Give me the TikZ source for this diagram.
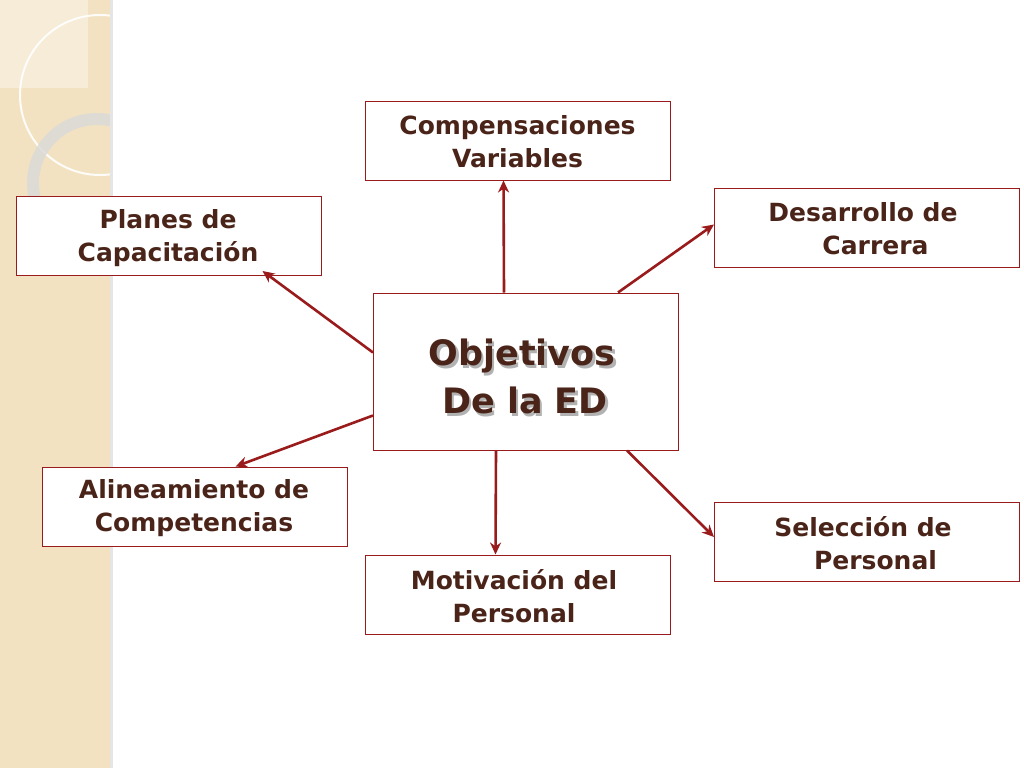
\documentclass[tikz,border=0pt]{standalone}
\usepackage{fontspec}
\setmainfont{DejaVu Sans}
\usetikzlibrary{calc,arrows.meta}
\begin{document}
\begin{tikzpicture}[x=1pt,y=-1pt,
  box/.style={draw=boxred,line width=1pt,fill=white,minimum width=305pt,minimum height=79pt,inner sep=0pt},
  lbl/.style={font=\bfseries\fontsize{25}{33}\selectfont,text=txt,align=center},
  arr/.style={draw=boxred,line width=2.6pt,-{Stealth[length=12pt,width=11pt]}}]
\definecolor{boxred}{HTML}{9A1B1B}
\definecolor{txt}{HTML}{4A2418}
\definecolor{beige}{HTML}{F2E2C2}
\useasboundingbox (0,0) rectangle (1024,768);
\fill[white] (0,0) rectangle (1024,768);
\fill[beige] (0,0) rectangle (112,768);
\begin{scope}
\clip (0,0) rectangle (112,768);
\fill[white,opacity=0.35] (0,0) rectangle (88,88);
\draw[white,line width=2pt,opacity=0.9] (100,95) circle (80);
\draw[gray!30,line width=12pt,opacity=0.8] (97,183) circle (64);
\end{scope}
\fill[gray!20] (110,0) rectangle (113,768);
% nodes
\node[box] (c) at (526,371.5) [minimum height=157pt] {};
\node[font=\bfseries\fontsize{35}{48}\selectfont,align=center,text=gray!60] (cs) at (524.5,379) {Objetivos\\ \,De la ED};
\node[font=\bfseries\fontsize{35}{48}\selectfont,text=txt,align=center] (ct) at (522,376) {Objetivos\\ \,De la ED};
\node[box] (comp) at (517.5,140.5) {};
\node[lbl] (compt) at (517.5,142) {Compensaciones\\ Variables};
\node[box] (plan) at (168.5,236) {};
\node[lbl] (plant) at (168,238) {Planes de\\ Capacitación};
\node[box] (des) at (867,227.5) {};
\node[lbl] (dest) at (863,229) {Desarrollo de\\ \quad Carrera};
\node[box] (ali) at (194.5,506.5) {};
\node[lbl] (alit) at (194,508) {Alineamiento de\\ Competencias};
\node[box] (sel) at (867,542) {};
\node[lbl] (selt) at (863,543) {Selección de\\ \quad Personal};
\node[box] (mot) at (517.5,594.5) {};
\node[lbl] (mott) at (514,596) {Motivación del\\ Personal};
% connectors
\draw[arr] ($(c.north west)+(131,0)$) -- ($(comp.south west)+(139,0)$);
\draw[arr] ($(c.north west)+(0,60)$) -- ($(plan.south east)+(-59,-5)$);
\draw[arr] ($(c.north west)+(245,0)$) -- ($(des.south west)+(0,-43)$);
\draw[arr] ($(c.south west)+(0,-35)$) -- ($(ali.north east)+(-112,0)$);
\draw[arr] ($(c.south west)+(123,0)$) -- ($(mot.north west)+(131,0)$);
\draw[arr] ($(c.south west)+(254,0)$) -- ($(sel.north west)+(0,35)$);
\end{tikzpicture}
\end{document}
